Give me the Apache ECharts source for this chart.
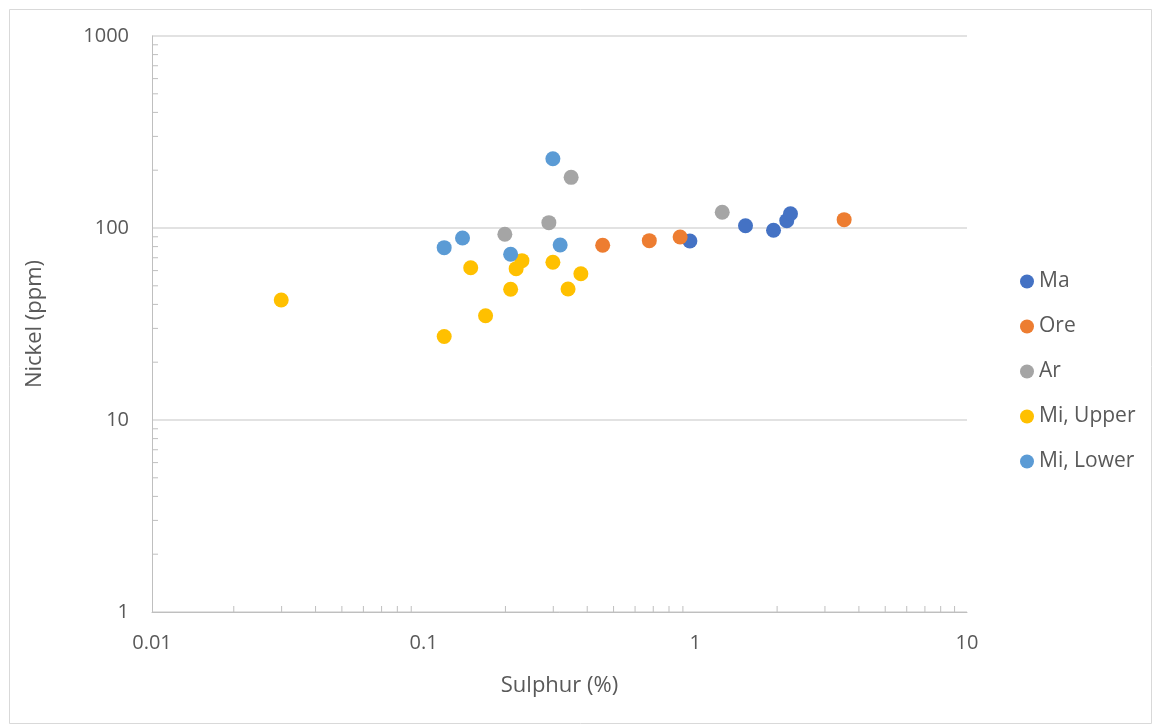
<!DOCTYPE html>
<html>
<head>
<meta charset="utf-8">
<script src="https://cdn.jsdelivr.net/npm/echarts@6/dist/echarts.min.js"></script>
<style>
  html, body { margin: 0; padding: 0; background: #ffffff; }
  #chart { width: 1153px; height: 728px; }
</style>
</head>
<body>
<div id="chart"></div>
<script>
// Sulphur (%) vs Nickel (ppm) by unit
const seriesNames = ['Ma', 'Ore', 'Ar', 'Mi, Upper', 'Mi, Lower'];
const seriesColors = ['#4472C4', '#ED7D31', '#A5A5A5', '#FFC000', '#5B9BD5'];

const maS = [0.955, 1.53, 1.94, 2.17, 2.24];
const maNi = [85.5, 102.8, 97.3, 109.2, 118.7];

const oreS = [0.456, 0.677, 0.879, 3.53];
const oreNi = [81.3, 85.9, 89.8, 110.5];

const arS = [0.199, 0.289, 0.349, 1.256];
const arNi = [92.7, 106.6, 183.6, 120.8];

const miUpperS = [0.0299, 0.119, 0.149, 0.169, 0.209, 0.219, 0.230, 0.299, 0.340, 0.379];
const miUpperNi = [42.2, 27.2, 62.1, 34.9, 48.0, 61.4, 67.6, 66.3, 48.1, 57.8];

const miLowerS = [0.119, 0.139, 0.209, 0.299, 0.318];
const miLowerNi = [79.0, 88.7, 73.0, 229.6, 81.5];

const xTickLabels = ['0.01', '0.1', '1', '10'];
const yTickLabels = ['1', '10', '100', '1000'];

// minor tick positions (2..9 within each decade)
const xMinorTicks = [0.02,0.03,0.04,0.05,0.06,0.07,0.08,0.09,0.2,0.3,0.4,0.5,0.6,0.7,0.8,0.9,2,3,4,5,6,7,8,9];
const yMinorTicks = [2,3,4,5,6,7,8,9,20,30,40,50,60,70,80,90,200,300,400,500,600,700,800,900];

const seriesX = [maS, oreS, arS, miUpperS, miLowerS];
const seriesY = [maNi, oreNi, arNi, miUpperNi, miLowerNi];

const FONT = 'Open Sans';
const TEXT = '#595959';
const AXIS = '#BFBFBF';
const GRID = '#D9D9D9';

const scatterSeries = seriesNames.map((name, i) => ({
  name: name,
  type: 'scatter',
  symbol: 'circle',
  symbolSize: 15,
  itemStyle: { color: seriesColors[i], opacity: 1 },
  data: seriesX[i].map((x, k) => [x, seriesY[i][k]]),
  z: 3 + i
}));

// minor tick marks drawn inside the plot, positioned by the axis scales
const tickData = xMinorTicks.map(v => [v, 1, 0]).concat(yMinorTicks.map(v => [0.01, v, 1]));
const minorTickSeries = {
  type: 'custom',
  silent: true,
  clip: false,
  z: 2,
  data: tickData,
  encode: { x: 0, y: 1 },
  renderItem: function (params, api) {
    const p = api.coord([api.value(0), api.value(1)]);
    const isY = api.value(2) === 1;
    const len = 6;
    return {
      type: 'line',
      shape: isY
        ? { x1: p[0], y1: p[1], x2: p[0] + len, y2: p[1] }
        : { x1: p[0], y1: p[1], x2: p[0], y2: p[1] - len },
      style: { stroke: AXIS, lineWidth: 1 }
    };
  }
};

const chart = echarts.init(document.getElementById('chart'), null, { renderer: 'canvas' });
chart.setOption({
  backgroundColor: '#ffffff',
  animation: false,
  textStyle: { fontFamily: FONT },
  graphic: [{
    type: 'rect',
    left: 7, top: 7,
    shape: { width: 1142, height: 714 },
    style: { fill: 'none', stroke: GRID, lineWidth: 1 },
    silent: true
  }],
  grid: { left: 152, right: 186, top: 36, bottom: 116 },
  legend: {
    orient: 'vertical',
    left: 1015,
    top: 266,
    data: seriesNames,
    icon: 'circle',
    itemWidth: 14,
    itemHeight: 14,
    itemGap: 24,
    textStyle: { fontFamily: FONT, fontSize: 21, color: TEXT, lineHeight: 20 },
    selectedMode: false
  },
  xAxis: {
    type: 'log',
    logBase: 10,
    min: 0.01,
    max: 10,
    name: 'Sulphur (%)',
    nameLocation: 'middle',
    nameGap: 63,
    nameTextStyle: { fontFamily: FONT, fontSize: 22, color: TEXT },
    axisLine: { show: true, lineStyle: { color: AXIS, width: 1 } },
    axisTick: { show: false },
    splitLine: { show: false },
    axisLabel: {
      fontFamily: FONT, fontSize: 20, color: TEXT, margin: 21,
      formatter: function (v) {
        const idx = Math.round(Math.log10(v)) + 2;
        return xTickLabels[idx] !== undefined ? xTickLabels[idx] : '';
      }
    }
  },
  yAxis: {
    type: 'log',
    logBase: 10,
    min: 1,
    max: 1000,
    name: 'Nickel (ppm)',
    nameLocation: 'middle',
    nameGap: 106,
    nameRotate: 90,
    nameTextStyle: { fontFamily: FONT, fontSize: 22, color: TEXT },
    axisLine: { show: true, lineStyle: { color: AXIS, width: 1 } },
    axisTick: { show: false },
    splitLine: { show: true, lineStyle: { color: GRID, width: 1.5 } },
    axisLabel: {
      fontFamily: FONT, fontSize: 20, color: TEXT, margin: 23,
      formatter: function (v) {
        const idx = Math.round(Math.log10(v));
        return yTickLabels[idx] !== undefined ? yTickLabels[idx] : '';
      }
    }
  },
  series: [minorTickSeries].concat(scatterSeries)
});
</script>
</body>
</html>
